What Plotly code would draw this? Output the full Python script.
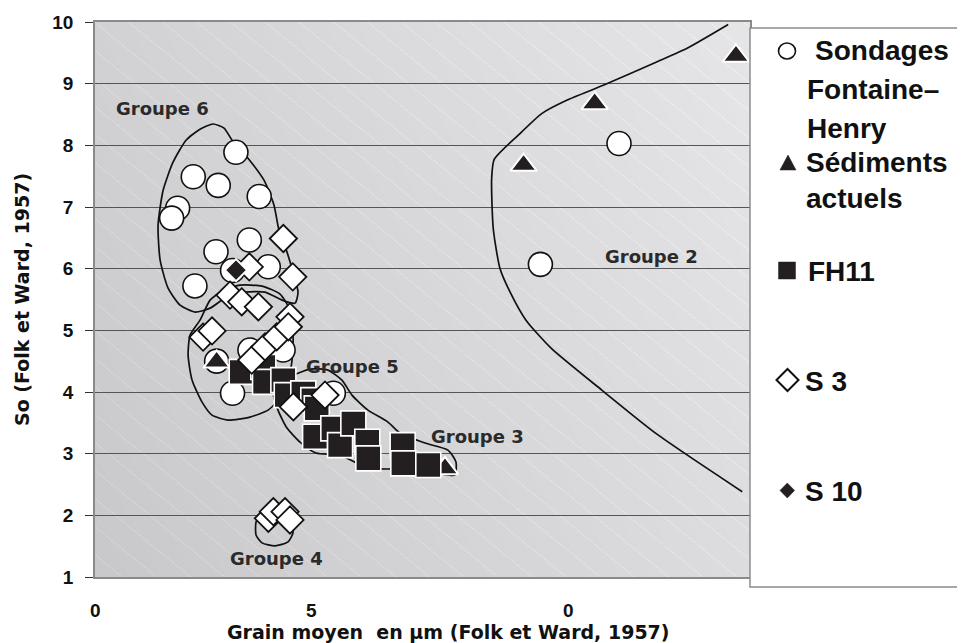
import base64
import struct
import zlib

import numpy as np
import plotly.graph_objects as go

# ---------------- data ----------------
sondages_x = [1.506, 1.05, 1.317, 1.755, 0.883, 0.819, 1.649, 1.293, 1.852, 1.47, 1.068,
              1.30, 1.656, 2.01, 1.47, 2.547, 5.60, 4.76]
sondages_y = [7.887, 7.49, 7.35, 7.17, 6.98, 6.82, 6.465, 6.275, 6.03, 5.97, 5.72,
              4.50, 4.68, 4.68, 3.98, 3.98, 8.03, 6.07]

sediments_x = [1.30, 3.74, 4.58, 5.34, 6.85]
sediments_y = [4.49, 2.76, 7.68, 8.68, 9.45]

fh11_x = [1.568, 1.799, 1.817, 2.013, 2.049, 2.226, 2.333, 2.370, 2.352, 2.547, 2.619,
          2.761, 2.910, 2.921, 3.288, 3.295, 3.562]
fh11_y = [4.327, 4.408, 4.165, 4.193, 3.950, 3.977, 3.869, 3.734, 3.274, 3.410, 3.139,
          3.491, 3.193, 2.924, 3.139, 2.843, 2.815]

s3_x = [2.013, 1.649, 2.113, 1.443, 1.568, 1.746, 2.084, 1.155, 1.251, 1.675, 1.817,
        1.942, 2.066, 2.120, 2.458, 1.853, 1.906, 2.031, 2.084]
s3_y = [6.489, 6.029, 5.867, 5.571, 5.462, 5.381, 5.219, 4.89, 4.99, 4.517, 4.733,
        4.895, 5.057, 3.760, 3.950, 1.952, 2.059, 2.059, 1.925]

s10_x = [1.507]
s10_y = [5.976]

# group outlines
g6_x = [1.262, 1.122, 0.973, 0.834, 0.728, 0.674, 0.696, 0.781, 0.909, 1.070, 1.230, 1.390,
        1.604, 1.817, 1.999, 2.138, 2.170, 2.126, 2.052, 1.966, 1.913, 1.806, 1.635, 1.465,
        1.379, 1.262]
g6_y = [8.346, 8.261, 8.083, 7.726, 7.272, 6.705, 6.138, 5.684, 5.409, 5.295, 5.360, 5.522,
        5.620, 5.620, 5.490, 5.441, 5.620, 5.895, 6.268, 6.625, 7.030, 7.435, 7.792, 8.083,
        8.278, 8.346]

g5_x = [1.122, 1.230, 1.358, 1.550, 1.785, 1.978, 2.084, 2.116, 2.106, 2.063, 1.978, 1.849,
        1.657, 1.422, 1.251, 1.144, 1.037, 0.995, 1.016, 1.122]
g5_y = [5.165, 5.490, 5.636, 5.733, 5.717, 5.587, 5.328, 4.922, 4.517, 4.193, 3.901, 3.706,
        3.593, 3.544, 3.625, 3.836, 4.193, 4.598, 4.922, 5.165]

g3_x = [1.903, 1.956, 2.052, 2.191, 2.362, 2.618, 2.917, 3.366, 3.654, 3.846, 3.858, 3.772,
        3.526, 3.259, 3.131, 2.917, 2.746, 2.639, 2.489, 2.297, 2.084, 1.903]
g3_y = [4.031, 3.706, 3.415, 3.188, 3.010, 2.977, 2.766, 2.750, 2.685, 2.653, 2.863, 3.058,
        3.172, 3.334, 3.512, 3.707, 3.950, 4.193, 4.355, 4.371, 4.242, 4.031]

g4_x = [1.785, 1.721, 1.721, 1.785, 1.924, 2.063, 2.116, 2.095, 1.999, 1.871, 1.785]
g4_y = [2.055, 1.893, 1.682, 1.553, 1.504, 1.569, 1.715, 1.893, 2.022, 2.087, 2.055]

g2_x = [6.767, 6.323, 6.002, 5.432, 5.041, 4.774, 4.523, 4.267, 4.239, 4.256, 4.328, 4.435,
        4.606, 4.877, 5.416, 5.994, 6.917]
g2_y = [9.958, 9.569, 9.352, 8.974, 8.731, 8.515, 8.164, 7.775, 7.462, 6.652, 6.003, 5.624,
        5.165, 4.707, 4.031, 3.329, 2.383]

group_labels = ["Groupe 6", "Groupe 5", "Groupe 3", "Groupe 4", "Groupe 2"]
group_label_x = [0.723, 2.747, 4.087, 1.941, 5.952]
group_label_y = [8.596, 4.42, 3.28, 1.303, 6.191]

x_tick_vals = [0, 2.31, 5.06]
x_tick_text = ["0", "5", "0"]

legend_lines = ["Sondages", "Fontaine–", "Henry", "Sédiments", "actuels", "FH11", "S 3", "S 10"]

# ---------------- styling helpers ----------------
# plot area in screen pixels; the page body adds an 8 px margin before the figure
OFF = 8
L, R, T, B = 95, 750, 22, 577
FW, FH = 965 - OFF, 643 - OFF


def px2p(px, py):
    return (px - L) / (R - L), (B - py) / (B - T)


def png_data_uri(arr):
    h, w, _ = arr.shape
    raw = b"".join(b"\x00" + arr[i].tobytes() for i in range(h))

    def chunk(t, d):
        c = struct.pack(">I", len(d)) + t + d
        return c + struct.pack(">I", zlib.crc32(t + d) & 0xFFFFFFFF)

    png = (b"\x89PNG\r\n\x1a\n"
           + chunk(b"IHDR", struct.pack(">IIBBBBB", w, h, 8, 2, 0, 0, 0))
           + chunk(b"IDAT", zlib.compress(raw, 9))
           + chunk(b"IEND", b""))
    return "data:image/png;base64," + base64.b64encode(png).decode()


W, H = R - L, B - T
yy, xx = np.mgrid[0:H, 0:W]
u = xx / (W - 1)
v = 1 - yy / (H - 1)
base = 201 + 20 * u + 9 * v
hatch = ((yy - 0.82 * xx) % 28) < 1.0
val = base + hatch * 11
bg = np.stack([val, val, val + 2], axis=-1).clip(0, 255).astype(np.uint8)
bg_uri = png_data_uri(bg)

TICK_FONT = dict(family="Liberation Sans, Arial, sans-serif", size=19, color="#111111", weight="bold")
TITLE_FONT = dict(family="DejaVu Sans, Verdana, sans-serif", size=19, color="#111111", weight="bold")
LEG_FONT = dict(family="Liberation Sans, Arial, sans-serif", size=28, color="#111111", weight="bold")
GRP_FONT = dict(family="DejaVu Sans, Verdana, sans-serif", size=18, color="#2a2a2a", weight="bold")

fig = go.Figure()

outline = dict(color="#111111", width=1.7)
for gx, gy in [(g6_x, g6_y), (g5_x, g5_y), (g3_x, g3_y), (g4_x, g4_y), (g2_x, g2_y)]:
    fig.add_trace(go.Scatter(x=gx, y=gy, mode="lines", line=dict(outline, shape="spline", smoothing=0.6),
                             showlegend=False, hoverinfo="skip"))

fig.add_trace(go.Scatter(x=sondages_x, y=sondages_y, mode="markers", name="Sondages Fontaine-Henry",
                         marker=dict(symbol="circle", size=24, color="white",
                                     line=dict(color="#111111", width=1.6)), showlegend=False))
fig.add_trace(go.Scatter(x=sediments_x, y=sediments_y, mode="markers", name="Sédiments actuels",
                         marker=dict(symbol="triangle-up", size=23, color="#231f20",
                                     line=dict(color="white", width=2)), showlegend=False))
fig.add_trace(go.Scatter(x=fh11_x, y=fh11_y, mode="markers", name="FH11",
                         marker=dict(symbol="square", size=25, color="#231f20",
                                     line=dict(color="white", width=1.6)), showlegend=False))
fig.add_trace(go.Scatter(x=s3_x, y=s3_y, mode="markers", name="S 3",
                         marker=dict(symbol="diamond", size=21, color="white",
                                     line=dict(color="#111111", width=1.8)), showlegend=False))
fig.add_trace(go.Scatter(x=s10_x, y=s10_y, mode="markers", name="S 10",
                         marker=dict(symbol="diamond", size=17, color="#231f20",
                                     line=dict(color="white", width=2)), showlegend=False))

annotations = []
for t, gx, gy in zip(group_labels, group_label_x, group_label_y):
    annotations.append(dict(x=gx, y=gy, xref="x", yref="y", text=t, showarrow=False,
                            font=GRP_FONT, xanchor="center", yanchor="middle"))

# x tick labels
for tv, tt in zip(x_tick_vals, x_tick_text):
    annotations.append(dict(x=tv, y=(B - 610) / (B - T), xref="x", yref="paper", text=tt,
                            showarrow=False, font=TICK_FONT, xanchor="center", yanchor="middle"))

# x axis title
ax_x, ax_y = px2p(448, 632)
annotations.append(dict(x=ax_x, y=ax_y, xref="paper", yref="paper",
                        text="Grain moyen  en µm (Folk et Ward, 1957)", showarrow=False,
                        font=TITLE_FONT, xanchor="center", yanchor="middle"))

# legend text
leg_pos = [(813, 50), (805, 90), (805, 128), (804, 163), (804, 199), (806, 271), (803, 381), (803, 491)]
for t, (lx, ly) in zip(legend_lines, leg_pos):
    px_, py_ = px2p(lx, ly)
    annotations.append(dict(x=px_, y=py_, xref="paper", yref="paper", text=t, showarrow=False,
                            font=LEG_FONT, xanchor="left", yanchor="middle"))

shapes = []
# legend box
bx0, by0 = px2p(750, 587)
bx1, by1 = px2p(1000, 28)
shapes.append(dict(type="rect", xref="paper", yref="paper", x0=bx0, y0=by0, x1=bx1, y1=by1,
                   line=dict(color="#8c8c8c", width=1.5), fillcolor="white", layer="above"))


def poly(points):
    pts = [px2p(a, b) for a, b in points]
    return "M " + " L ".join(f"{a:.5f},{b:.5f}" for a, b in pts) + " Z"


# legend keys
c0 = px2p(787 - 8.5, 51 + 8)
c1 = px2p(787 + 8.5, 51 - 8)
shapes.append(dict(type="circle", xref="paper", yref="paper", x0=c0[0], y0=c0[1], x1=c1[0], y1=c1[1],
                   line=dict(color="#111111", width=1.6), fillcolor="white", layer="above"))
shapes.append(dict(type="path", xref="paper", yref="paper",
                   path=poly([(780, 170), (788, 155), (796, 170)]),
                   line=dict(color="#231f20", width=0.5), fillcolor="#231f20", layer="above"))
s0 = px2p(778.5, 279)
s1 = px2p(795.5, 262)
shapes.append(dict(type="rect", xref="paper", yref="paper", x0=s0[0], y0=s0[1], x1=s1[0], y1=s1[1],
                   line=dict(color="#231f20", width=0.5), fillcolor="#231f20", layer="above"))
shapes.append(dict(type="path", xref="paper", yref="paper",
                   path=poly([(776.5, 380), (787.5, 369), (798.5, 380), (787.5, 391)]),
                   line=dict(color="#111111", width=2), fillcolor="white", layer="above"))
shapes.append(dict(type="path", xref="paper", yref="paper",
                   path=poly([(780, 490.5), (787.3, 483), (794.6, 490.5), (787.3, 498)]),
                   line=dict(color="#231f20", width=0.5), fillcolor="#231f20", layer="above"))

fig.update_layout(
    width=FW, height=FH, autosize=False,
    margin=dict(l=L - OFF, r=FW - (R - OFF), t=T - OFF, b=FH - (B - OFF), autoexpand=False),
    paper_bgcolor="white", plot_bgcolor="#d6d6d8",
    images=[dict(source=bg_uri, xref="paper", yref="paper", x=0, y=1, sizex=1, sizey=1,
                 sizing="stretch", xanchor="left", yanchor="top", layer="below")],
    annotations=annotations, shapes=shapes, showlegend=False,
    xaxis=dict(range=[0, 7], showgrid=False, zeroline=False, showticklabels=False, ticks="",
               automargin=False,
               showline=True, linecolor="#8a8a8a", linewidth=1.5, mirror=True,
               minor=dict(tick0=0, dtick=1, showgrid=True, gridcolor="#4a4a4a", gridwidth=1.1,
                          ticks="outside", ticklen=6, tickcolor="#333333")),
    yaxis=dict(range=[1, 10], dtick=1, tick0=1, showgrid=True, gridcolor="#555555", gridwidth=1.4,
               zeroline=False, ticks="outside", ticklen=8, tickcolor="#333333", tickwidth=1.2,
               tickfont=TICK_FONT, ticklabelstandoff=8, automargin=False,
               showline=True, linecolor="#8a8a8a", linewidth=1.5, mirror=True,
               title=dict(text="So (Folk et Ward, 1957)", font=TITLE_FONT, standoff=18)),
)

fig.write_html("out.html")
